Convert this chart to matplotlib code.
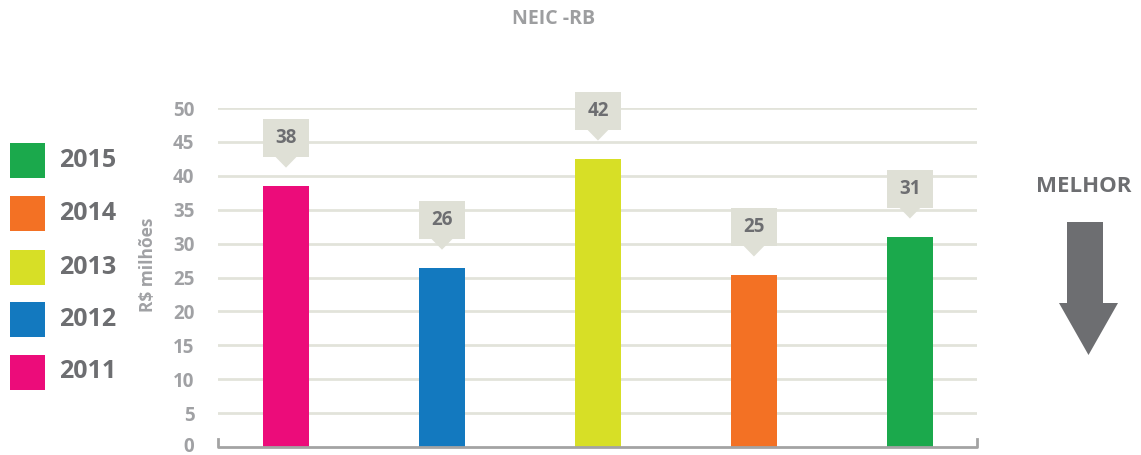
import matplotlib
matplotlib.use("Agg")
import matplotlib.pyplot as plt
import matplotlib.transforms as mtransforms
from matplotlib.patches import Polygon, Rectangle

plt.rcParams['font.family'] = ['Open Sans', 'DejaVu Sans']

years = ["2011", "2012", "2013", "2014", "2015"]
values = [38.5, 26.4, 42.5, 25.4, 31.0]
labels = ["38", "26", "42", "25", "31"]
colors = ["#EC0C7A", "#1379BF", "#D7DF26", "#F37124", "#1BA94C"]
yticks = [0, 5, 10, 15, 20, 25, 30, 35, 40, 45, 50]

W, H = 1141, 455
fig = plt.figure(figsize=(W / 100, H / 100), dpi=100)

def fx(px):
    return px / W

def fy(py):
    return 1 - py / H

ax = fig.add_axes([fx(218), fy(447), fx(977) - fx(218), fy(108) - fy(447)])
x = list(range(len(years)))
bw = 0.295
ax.bar(x, values, width=bw, color=colors, zorder=3)
ax.set_xlim(-0.436, 4.43)
ax.set_ylim(0, 50)
ax.set_yticks(yticks)
ax.set_xticks([])
for y in yticks[1:]:
    ax.axhline(y, color="#E2E3DA", lw=2, zorder=1)
for s in ax.spines.values():
    s.set_visible(False)
ax.tick_params(axis='y', length=0, pad=17, labelsize=13.5, labelcolor="#A0A1A4")
for t in ax.get_yticklabels():
    t.set_fontweight('bold')
# nudge the "0" label up slightly so it stays inside the canvas
zero_lbl = ax.get_yticklabels()[0]
zero_lbl.set_transform(zero_lbl.get_transform() +
                       mtransforms.ScaledTranslation(0, 2 / 100, fig.dpi_scale_trans))

# bottom axis bracket
ax.plot([0, 0, 1, 1], [0.025, 0, 0, 0.025], transform=ax.transAxes,
        color="#A3A3A3", lw=2, clip_on=False, zorder=4)

# callouts
box_c = "#DFE0D6"
for xi, v, lab in zip(x, values, labels):
    b0 = v + 4.3
    b1 = v + 9.9
    tip = v + 2.7
    hw = bw / 2
    ax.add_patch(Rectangle((xi - hw, b0), bw, b1 - b0, facecolor=box_c,
                           edgecolor='none', clip_on=False, zorder=5))
    ax.add_patch(Polygon([(xi - 0.07, b0 + 0.05), (xi + 0.07, b0 + 0.05), (xi, tip)],
                         closed=True, facecolor=box_c, edgecolor='none',
                         clip_on=False, zorder=5))
    ax.text(xi, (b0 + b1) / 2, lab, ha='center', va='center', fontsize=13.5,
            fontweight='bold', color="#6D6E71", zorder=6)

# title
fig.text(fx(554), fy(19), "NEIC -RB", ha='center', va='center', fontsize=14,
         fontweight='bold', color="#9D9EA0")

# y label
fig.text(fx(148), fy(265), "R\\$ milhões", ha='center', va='center', rotation=90,
         fontsize=12.5, fontweight='bold', color="#A0A1A4")

# legend
leg_y = {"2015": 160, "2014": 213, "2013": 267, "2012": 319, "2011": 372}
for yr, col in zip(years, colors):
    cy = leg_y[yr]
    fig.add_artist(Rectangle((fx(10), fy(cy + 17.5)), fx(35), 35 / H,
                             transform=fig.transFigure, facecolor=col, edgecolor='none'))
    fig.text(fx(59), fy(cy), yr, ha='left', va='center', fontsize=18,
             fontweight='bold', color="#6D6E71")

# MELHOR + arrow
fig.text(fx(1084), fy(186), "MELHOR", ha='center', va='center', fontsize=16,
         fontweight='bold', color="#6D6E71")
arrow_c = "#6D6E71"
fig.add_artist(Polygon([(fx(1067), fy(222)), (fx(1103), fy(222)), (fx(1103), fy(303)),
                        (fx(1118), fy(303)), (fx(1088.5), fy(355)), (fx(1059), fy(303)),
                        (fx(1067), fy(303))],
                       closed=True, transform=fig.transFigure, facecolor=arrow_c,
                       edgecolor='none'))

fig.savefig("out.png", dpi=100)
